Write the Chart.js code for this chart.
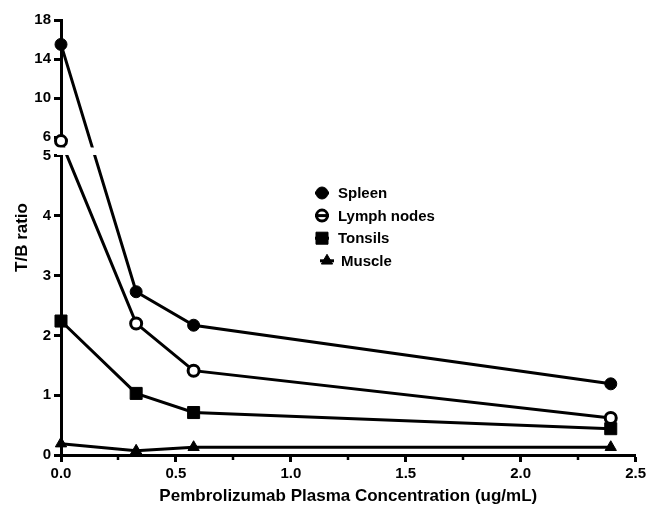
<!DOCTYPE html>
<html><head><meta charset="utf-8">
<script src="https://cdn.jsdelivr.net/npm/chart.js@4.4.0/dist/chart.umd.min.js"></script>
<style>html,body{margin:0;padding:0;background:#fff;}#wrap{width:649px;height:505px;position:relative}</style>
</head><body><div id="wrap"><canvas id="c"></canvas></div>
<script>
// ---- data ----
const concentrations = [0, 0.327, 0.577, 2.392];
const spleen = [15.5, 2.73, 2.17, 1.19];
const lymphNodes = [5.6, 2.20, 1.41, 0.62];
const tonsils = [2.24, 1.03, 0.71, 0.44];
const muscle = [0.19, 0.07, 0.13, 0.13];
const seriesLabels = ['Spleen', 'Lymph nodes', 'Tonsils', 'Muscle'];
const yTickValues = [0, 1, 2, 3, 4, 5, 6, 10, 14, 18];
const xMajorStep = 0.5;
const xMinorTicks = [0.25, 0.75, 1.25, 1.75, 2.25];
const yBreakValue = 5;

// ---- broken (two-segment) y scale ----
const LOWER_FRAC = 0.6874, GAP_FRAC = 0.0207;
class BrokenScale extends Chart.LinearScale {
  static id = 'broken';
  static defaults = {};
  buildTicks() { return yTickValues.map(v => ({ value: v })); }
  segs() {
    const h = this.bottom - this.top;
    const lowerH = h * LOWER_FRAC, gap = h * GAP_FRAC, upperH = h - lowerH - gap;
    return { lowerTop: this.bottom - lowerH, upperBottom: this.top + upperH, lowerH, upperH };
  }
  getPixelForValue(value) {
    const s = this.segs();
    if (value <= yBreakValue) return this.bottom - (value - this.min) / (yBreakValue - this.min) * s.lowerH;
    return this.top + s.upperH * (this.max - value) / (this.max - yBreakValue);
  }
  getValueForPixel(p) {
    const s = this.segs();
    if (p >= s.lowerTop) return this.min + (this.bottom - p) / s.lowerH * (yBreakValue - this.min);
    return this.max - (p - this.top) / s.upperH * (this.max - yBreakValue);
  }
}
Chart.register(BrokenScale);

const FONT = 'Liberation Sans, Arial, Helvetica, sans-serif';
Chart.defaults.font.family = FONT;
Chart.defaults.font.weight = 'bold';
Chart.defaults.font.size = 15;
Chart.defaults.color = '#000';

const toXY = arr => arr.map((v, i) => ({ x: concentrations[i], y: v }));
const common = { borderColor: '#000', borderWidth: 3, pointBorderColor: '#000', pointBackgroundColor: '#000', pointBorderWidth: 1, clip: false, tension: 0 };
const datasets = [
  Object.assign({}, common, { label: seriesLabels[0], data: toXY(spleen), pointStyle: 'circle', pointRadius: 6 }),
  Object.assign({}, common, { label: seriesLabels[1], data: toXY(lymphNodes), pointStyle: 'circle', pointRadius: 5.5, pointBorderWidth: 3, pointBackgroundColor: '#fff' }),
  Object.assign({}, common, { label: seriesLabels[2], data: toXY(tonsils), pointStyle: 'rect', pointRadius: 8.5 }),
  Object.assign({}, common, { label: seriesLabels[3], data: toXY(muscle), pointStyle: 'triangle', pointRadius: 6.5 })
];

// plugin: axis break gap + minor x ticks
const breakPlugin = {
  id: 'breakPlugin',
  afterDatasetsDraw(chart) {
    const y = chart.scales.y, x = chart.scales.x, ctx = chart.ctx;
    const s = y.segs();
    ctx.save();
    ctx.fillStyle = '#fff';
    ctx.fillRect(x.left - 4, s.upperBottom + 0.5, x.right - x.left + 8, s.lowerTop - s.upperBottom - 1.5);
    ctx.strokeStyle = '#000';
    ctx.lineWidth = 2.5;
    const yb = x.top;
    xMinorTicks.forEach(v => {
      const px = Math.round(x.getPixelForValue(v));
      ctx.beginPath(); ctx.moveTo(px, yb); ctx.lineTo(px, yb + 5); ctx.stroke();
    });
    ctx.restore();
  }
};

// plugin: legend inside plot
const legendPlugin = {
  id: 'innerLegend',
  afterDraw(chart, args, opts) {
    const ctx = chart.ctx;
    ctx.save();
    ctx.font = 'bold 15px ' + FONT;
    ctx.textBaseline = 'middle';
    chart.data.datasets.forEach((ds, i) => {
      const cy = opts.y + i * opts.spacing;
      const cx = opts.x + (i === 3 ? 5 : 0);
      ctx.strokeStyle = '#000'; ctx.lineWidth = 3;
      ctx.beginPath(); ctx.moveTo(cx - 7, cy); ctx.lineTo(cx + 7, cy); ctx.stroke();
      ctx.fillStyle = ds.pointBackgroundColor; ctx.strokeStyle = '#000'; ctx.lineWidth = ds.pointBorderWidth;
      Chart.helpers.drawPoint(ctx, { pointStyle: ds.pointStyle, radius: ds.pointRadius, borderWidth: ds.pointBorderWidth, rotation: 0 }, cx, cy);
      if (ds.pointStyle === 'circle' && ds.pointBackgroundColor === '#fff') {
        ctx.beginPath(); ctx.moveTo(cx - 5, cy); ctx.lineTo(cx + 5, cy); ctx.lineWidth = 3; ctx.stroke();
      }
      ctx.fillStyle = '#000';
      ctx.fillText(ds.label, opts.textX + (i === 3 ? 3 : 0), cy + 1);
    });
    ctx.restore();
  }
};

new Chart(document.getElementById('c'), {
  type: 'line',
  data: { datasets },
  options: {
    responsive: true, maintainAspectRatio: false, animation: false, devicePixelRatio: 1,
    layout: { padding: { top: 20, right: 10, left: 0, bottom: 0 } },
    plugins: {
      legend: { display: false }, tooltip: { enabled: false },
      innerLegend: { x: 322, y: 193, spacing: 22.6, textX: 338 }
    },
    elements: { point: { hoverRadius: 6 } },
    scales: {
      x: {
        type: 'linear', min: 0, max: 2.5,
        ticks: { stepSize: xMajorStep, callback: v => Number(v).toFixed(1), padding: 3, font: { size: 15, weight: 'bold' }, color: '#000' },
        grid: { drawOnChartArea: false, drawTicks: true, tickLength: 7, tickWidth: 3, tickColor: '#000' },
        border: { display: true, width: 3, color: '#000' },
        title: { display: true, text: 'Pembrolizumab Plasma Concentration (ug/mL)', font: { size: 17, weight: 'bold' }, color: '#000', padding: { top: 2, bottom: -2 } },
        afterFit: s => { s.height = 50; }
      },
      y: {
        type: 'broken', min: 0, max: 18,
        ticks: { callback: v => String(v), padding: 3, font: { size: 15, weight: 'bold' }, color: '#000', autoSkip: false },
        grid: { drawOnChartArea: false, drawTicks: true, tickLength: 7, tickWidth: 3, tickColor: '#000' },
        border: { display: true, width: 3, color: '#000' },
        title: { display: true, text: 'T/B ratio', font: { size: 17, weight: 'bold' }, color: '#000', padding: { top: 12, bottom: 2 } },
        afterFit: s => { s.width = 61; }
      }
    }
  },
  plugins: [breakPlugin, legendPlugin]
});
</script></body></html>
